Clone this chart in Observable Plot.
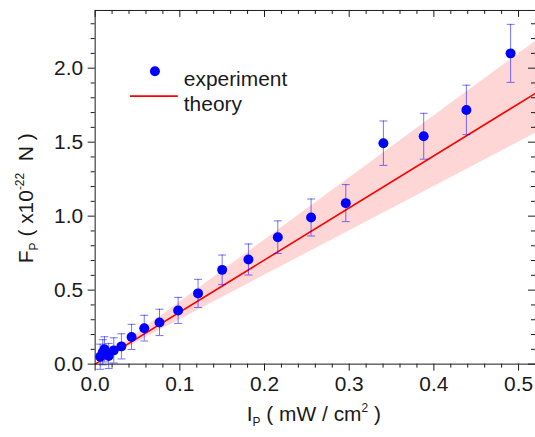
<!DOCTYPE html>
<html><head><meta charset="utf-8">
<script src="https://cdn.jsdelivr.net/npm/d3@7"></script>
<script src="https://cdn.jsdelivr.net/npm/@observablehq/plot@0.6"></script>
<style>html,body{margin:0;padding:0;background:#fff;overflow:hidden}</style>
</head><body><div id="chart"></div>
<script>
// Experimental data: intensity I_P (mW/cm^2), force F_P (x10^-22 N), error
const intensity = [0.006, 0.009, 0.011, 0.016, 0.022, 0.031, 0.043, 0.058, 0.076, 0.098, 0.1215, 0.150, 0.181, 0.2157, 0.255, 0.296, 0.3404, 0.388, 0.4384, 0.4906];
const force     = [0.050, 0.080, 0.100, 0.055, 0.093, 0.120, 0.184, 0.243, 0.282, 0.363, 0.478, 0.637, 0.707, 0.858, 0.991, 1.088, 1.493, 1.540, 1.718, 2.100];
const forceErr  = [0.085, 0.085, 0.085, 0.085, 0.085, 0.085, 0.085, 0.087, 0.089, 0.088, 0.095, 0.100, 0.105, 0.110, 0.125, 0.125, 0.150, 0.155, 0.167, 0.196];
// Theory line and its uncertainty band (endpoints)
const theoryX    = [0, 0.52];
const theoryY    = [0, 1.83];
const bandLow    = [0, 1.56];
const bandHigh   = [0, 2.18];
// Ticks
const xTicks = [0, 0.1, 0.2, 0.3, 0.4, 0.5];
const xTickLabels = ["0.0", "0.1", "0.2", "0.3", "0.4", "0.5"];
const yTicks = [0, 0.5, 1.0, 1.5, 2.0];
const yTickLabels = ["0.0", "0.5", "1.0", "1.5", "2.0"];
const xMinor = d3.range(0, 27).map(i => +(i * 0.02).toFixed(2)).filter(v => !xTicks.includes(v));
const yMinor = d3.range(0, 24).map(i => +(i * 0.1).toFixed(1)).filter(v => !yTicks.includes(v));
const legendLabels = ["experiment", "theory"];

const W = 537, H = 437, mL = 95, mR = 0, mT = 10, mB = 72;
const innerW = W - mL - mR, innerH = H - mT - mB;
const pts = intensity.map((x, i) => ({x, y: force[i], e: forceErr[i]}));
const theory = theoryX.map((x, i) => ({x, y: theoryY[i], lo: bandLow[i], hi: bandHigh[i]}));
const hLine = (half) => ({draw(ctx) { ctx.moveTo(-half, 0); ctx.lineTo(half, 0); }});
const ink = "#1a1a1a";
const fs = 21;

const plot = Plot.plot({
  width: W, height: H, marginLeft: mL, marginRight: mR, marginTop: mT, marginBottom: mB,
  style: {fontFamily: "'Liberation Sans', Arial, sans-serif", fontSize: fs + "px", background: "#fff", color: ink, overflow: "visible"},
  x: {domain: [0, 0.52], label: null},
  y: {domain: [0, 2.39], label: null},
  marks: [
    Plot.areaY(theory, {x: "x", y1: "lo", y2: "hi", fill: "#ff0000", fillOpacity: 0.16}),
    Plot.line(theory, {x: "x", y: "y", stroke: "#ff0000", strokeWidth: 1.6}),
    Plot.ruleX(pts, {x: "x", y1: d => d.y - d.e, y2: d => d.y + d.e, stroke: "#0000ff", strokeOpacity: 0.55, strokeWidth: 1}),
    Plot.dot(pts, {x: "x", y: d => d.y + d.e, symbol: hLine(4), stroke: "#0000ff", strokeOpacity: 0.55, fill: "none", strokeWidth: 1}),
    Plot.dot(pts, {x: "x", y: d => d.y - d.e, symbol: hLine(4), stroke: "#0000ff", strokeOpacity: 0.55, fill: "none", strokeWidth: 1}),
    Plot.dot(pts, {x: "x", y: "y", r: 5, fill: "#0000ff", stroke: "none"}),
    // axes: bottom & left outward
    Plot.axisX({ticks: xTicks, tickSize: 7, tickPadding: 5, tickFormat: (d, i) => xTickLabels[i], label: null, stroke: ink}),
    Plot.axisX({ticks: xMinor, tickSize: 4, tickFormat: () => "", label: null, stroke: ink}),
    Plot.axisY({ticks: yTicks, tickSize: 7, tickPadding: 5, tickFormat: (d, i) => yTickLabels[i], label: null, stroke: ink}),
    Plot.axisY({ticks: yMinor, tickSize: 4, tickFormat: () => "", label: null, stroke: ink}),
    // top & right inward ticks
    Plot.ruleX(xTicks, {x: d => d, insetBottom: innerH - 7, stroke: ink}),
    Plot.ruleX(xMinor, {x: d => d, insetBottom: innerH - 4, stroke: ink}),
    Plot.ruleY(yTicks, {y: d => d, insetLeft: innerW - 7, stroke: ink}),
    Plot.ruleY(yMinor, {y: d => d, insetLeft: innerW - 4, stroke: ink}),
    Plot.frame({stroke: ink}),
    // legend
    Plot.dot([legendLabels[0]], {frameAnchor: "top-left", dx: 155 - mL, dy: 71 - mT, r: 5, fill: "#0000ff"}),
    Plot.text([legendLabels[0]], {frameAnchor: "top-left", dx: 184 - mL, dy: 70.5 - mT, text: d => d, textAnchor: "start", fontSize: fs, fill: ink}),
    Plot.dot([legendLabels[1]], {frameAnchor: "top-left", dx: 154 - mL, dy: 96 - mT, symbol: hLine(24), stroke: "#ff0000", fill: "none", strokeWidth: 1.6}),
    Plot.text([legendLabels[1]], {frameAnchor: "top-left", dx: 184 - mL, dy: 96 - mT, text: d => d, textAnchor: "start", fontSize: fs, fill: ink})
  ]
});
document.getElementById("chart").appendChild(plot);

// axis titles with sub/superscripts
const svg = d3.select(plot);
const xt = svg.append("text").attr("x", 315).attr("y", 423).attr("text-anchor", "middle")
  .attr("fill", ink).style("font-size", fs + "px").style("white-space", "pre");
xt.append("tspan").text("I");
xt.append("tspan").attr("dy", 5).style("font-size", "12px").text("P");
xt.append("tspan").attr("dy", -5).text(" ( mW / cm");
xt.append("tspan").attr("dy", -9).style("font-size", "12px").text("2");
xt.append("tspan").attr("dy", 9).text(" )");

const yt = svg.append("text").attr("transform", "translate(33,199) rotate(-90)").attr("text-anchor", "middle")
  .attr("fill", ink).style("font-size", fs + "px").style("white-space", "pre");
yt.append("tspan").text("F");
yt.append("tspan").attr("dy", 5).style("font-size", "12px").text("P");
yt.append("tspan").attr("dy", -5).text(" ( x10");
yt.append("tspan").attr("dy", -9).style("font-size", "12px").text("-22");
yt.append("tspan").attr("dy", 9).text("  N )");
</script>
</body></html>
